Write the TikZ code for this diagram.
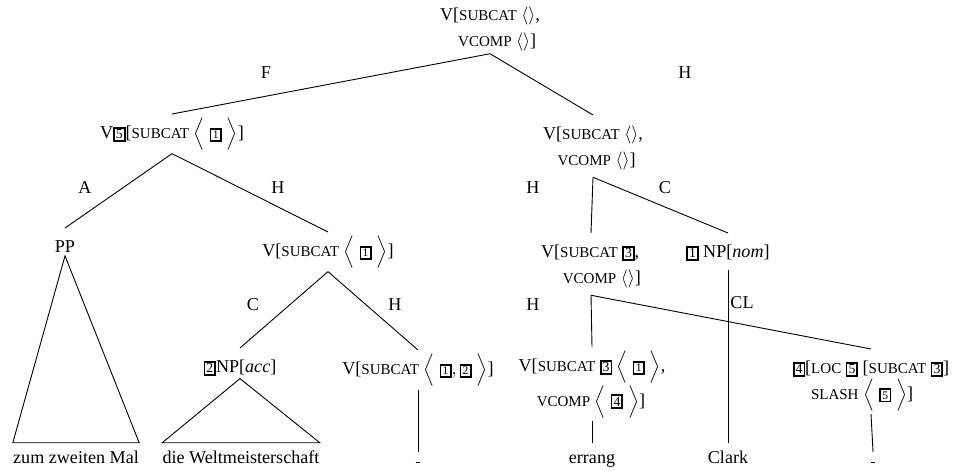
\documentclass[tikz,border=0pt]{standalone}
\usepackage{amsmath}
\usepackage{fontspec}
\setmainfont{Liberation Serif}
\usepackage{tikz}
\usetikzlibrary{positioning}

\newcommand{\feat}[1]{{\fontsize{8.3pt}{9pt}\selectfont\MakeUppercase{#1}}}
\newcommand{\tagnum}[1]{{\setlength{\fboxsep}{0.6pt}\setlength{\fboxrule}{0.9pt}\fbox{\fontsize{7.6pt}{7.6pt}\selectfont #1}}}
\newcommand{\tagsmall}[1]{{\setlength{\fboxsep}{0.8pt}\setlength{\fboxrule}{0.9pt}\fbox{\fontsize{6.4pt}{6.4pt}\selectfont #1}}}
\newcommand{\tstrut}{\rule{0pt}{12pt}}
\newcommand{\tdepth}{\rule[-5pt]{0pt}{5pt}}

\begin{document}
\begin{tikzpicture}[x=0.5525pt, y=-0.5525pt,
        tnode/.style={anchor=north, inner xsep=0pt, inner ysep=1.5pt, align=left,
            font=\fontsize{10pt}{14pt}\selectfont,
            execute at begin node={\rule{0pt}{12pt}},
            execute at end node={\tdepth}},
        roof/.style={execute at begin node={\let\tdepth\relax}},
        lab/.style={inner sep=0pt},
        leaf/.style={anchor=base, inner sep=0pt, text height=11pt},
        trace/.style={anchor=base, inner sep=0pt, text height=6pt},
        branch/.style={line width=0.5pt}
    ]
    \useasboundingbox (0,0) rectangle (957,470);

    % Root
    \node[tnode, roof] (root) at (490,-4) {\tstrut V[\feat{subcat} $\langle\rangle$,\\\hspace*{1em}\feat{vcomp} $\langle\rangle$]};

    % Filler and head
    \node[tnode] (v5) at (172,114) {V\tagnum{5}[\feat{subcat} $\Big\langle\;\tagsmall{1}\;\Big\rangle$]};
    \node[tnode] (vr) at (593,115) {\tstrut V[\feat{subcat} $\langle\rangle$,\\\hspace*{0.8em}\feat{vcomp} $\langle\rangle$]};
    \node[lab] (lf) at (266,73) {F};
    \node[lab] (lh) at (685,73) {H};
    \draw[branch] (root.south) -- (v5.north);
    \draw[branch] (root.south) -- (vr.north);

    % Left part
    \node[tnode, roof] (pp) at (65,228) {PP};
    \node[tnode] (v1) at (328,232) {V[\feat{subcat} $\Big\langle\;\tagsmall{1}\;\Big\rangle$]};
    \node[lab] (la) at (85,188) {A};
    \node[lab] (lh2) at (278,188) {H};
    \draw[branch] (v5.south) -- (pp.north);
    \draw[branch] (v5.south) -- (v1.north);

    \node[tnode, roof] (np2) at (240,348) {\tagnum{2}NP[\textit{acc}]};
    \node[tnode] (v12) at (418,350) {V[\feat{subcat} $\Big\langle\;\tagsmall{1}, \tagsmall{2}\;\Big\rangle$]};
    \node[lab] (lc) at (253,305) {C};
    \node[lab] (lh3) at (395,305) {H};
    \draw[branch] (v1.south) -- (np2.north);
    \draw[branch] (v1.south) -- (v12.north);

    % Right part
    \node[tnode] (v3) at (591,233) {\tstrut V[\feat{subcat} \tagnum{3},\\\hspace*{1.2em}\feat{vcomp} $\langle\rangle$]};
    \node[tnode] (npnom) at (728,233) {\tagnum{1} NP[\textit{nom}]};
    \node[lab] (lh4) at (533,188) {H};
    \node[lab] (lc2) at (665,188) {C};
    \draw[branch] (vr.south) -- (v3.north);
    \draw[branch] (vr.south) -- (npnom.north);

    \node[tnode] (v3b) at (592,347) {\tstrut V[\feat{subcat} \tagnum{3} $\Big\langle\;\tagsmall{1}\;\Big\rangle$,\\\hspace*{1em}\feat{vcomp} $\Big\langle\;\tagnum{4}\;\Big\rangle$]};
    \node[tnode] (loc) at (871,349) {\tstrut\tagnum{4}[\feat{loc} \tagnum{5} [\feat{subcat} \tagnum{3}]\\\hspace*{1em}\feat{slash} $\Big\langle\;\tagsmall{5}\;\Big\rangle$]};
    \node[lab] (lh5) at (533,305) {H};
    \node[lab] (lcl) at (742,303) {CL};
    \draw[branch] (v3.south) -- (v3b.north);
    \draw[branch] (v3.south) -- (loc.north);

    % Words
    \node[leaf] (zum) at (76,463) {zum zweiten Mal};
    \node[leaf] (wm) at (241,463) {die Weltmeisterschaft};
    \node[trace] (tr1) at (418,463) {\rule{2.5pt}{0.5pt}};
    \node[leaf] (errang) at (592,463) {errang};
    \node[leaf] (clark) at (728,463) {Clark};
    \node[trace] (tr2) at (873,463) {\rule{2.5pt}{0.5pt}};

    \draw[branch] (pp.south) -- (zum.north west) -- (zum.north east) -- cycle;
    \draw[branch] (np2.south) -- (wm.north west) -- (wm.north east) -- cycle;
    \draw[branch] (v12.south) -- (tr1.north);
    \draw[branch] (v3b.south) -- (errang.north);
    \draw[branch] (npnom.south) -- (clark.north);
    \draw[branch] (loc.south) -- (tr2.north);
\end{tikzpicture}
\end{document}
